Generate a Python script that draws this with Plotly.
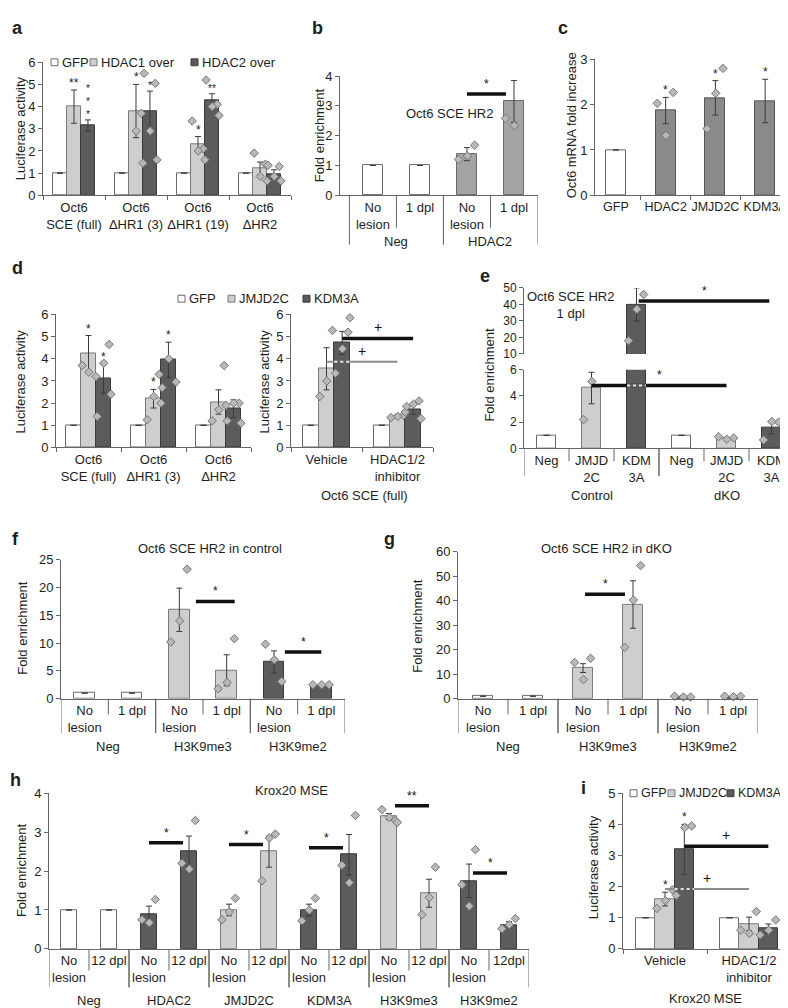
import plotly.graph_objects as go

W, H = 788, 1008
FONT = "Liberation Sans, Arial, Helvetica, sans-serif"
FS = 13
TXT = "#1e1e1e"
AX = "#666666"
ERRC = "#3a3a3a"
WHITE, LIGHT, MID, MID2, DARK = "#ffffff", "#cecece", "#a4a4a4", "#8a8a8a", "#5c5c5c"
EDGE = {WHITE: "#6a6a6a", LIGHT: "#7a7a7a", MID: "#6a6a6a", MID2: "#555555", DARK: "#3a3a3a"}
PT_FILL, PT_EDGE = "#b8b8b8", "#767676"
JIT = [-0.42, 0.38, 0.02, 0.5, -0.2]

# ======================= DATA =======================
# --- a ---
a_groups = ["Oct6<br>SCE (full)", "Oct6<br>ΔHR1 (3)", "Oct6<br>ΔHR1 (19)", "Oct6<br>ΔHR2"]
a_series = ["GFP", "HDAC1 over", "HDAC2 over"]
a_gfp = [1, 1, 1, 1]
a_hdac1 = [4.0, 3.8, 2.3, 1.2]
a_hdac1_err = [0.75, 1.2, 0.35, 0.3]
a_hdac1_pts = [[], [7.0, 3.7, 2.9, 1.45], [3.35, 2.1, 2.0, 1.6], [1.9, 1.4, 0.85, 0.65]]
a_hdac1_sig = ["**", "*", "*", ""]
a_hdac2 = [3.15, 3.8, 4.28, 0.95]
a_hdac2_err = [0.25, 0.9, 0.3, 0.2]
a_hdac2_pts = [[], [5.5, 5.05, 2.9, 1.6], [5.2, 4.1, 4.0, 3.6], [1.35, 1.3, 0.85, 0.65]]
a_hdac2_sig = ["*<br>*<br>*", "*", "**", ""]

# --- b ---
b_cats = ["No<br>lesion", "1 dpl", "No<br>lesion", "1 dpl"]
b_groups = ["Neg", "HDAC2"]
b_group_sizes = [2, 2]
b_vals = [1, 1, 1.38, 3.15]
b_err = [0, 0, 0.22, 0.7]
b_pts = [[], [], [1.2, 1.68, 1.32], [2.58, 4.56, 2.34]]
b_sig = [(2.0, 2.83, 3.4, "*")]

# --- c ---
c_cats = ["GFP", "HDAC2", "JMJD2C", "KDM3A"]
c_vals = [1, 1.87, 2.15, 2.08]
c_err = [0, 0.29, 0.38, 0.48]
c_pts = [[], [2.03, 2.27, 1.32], [1.47, 2.8, 2.25], []]
c_stars = ["", "*", "*", "*"]

# --- d ---
d_series = ["GFP", "JMJD2C", "KDM3A"]
d1_groups = ["Oct6<br>SCE (full)", "Oct6<br>ΔHR1 (3)", "Oct6<br>ΔHR2"]
d1_gfp = [1, 1, 1]
d1_jmjd = [4.25, 2.2, 2.05]
d1_jmjd_err = [0.8, 0.42, 0.55]
d1_jmjd_pts = [[3.7, 6.7, 3.4, 3.2], [1.25, 3.3, 2.3, 2.0], [1.2, 3.7, 1.7, 1.9]]
d1_jmjd_sig = ["*", "*", ""]
d1_kdm = [3.1, 3.95, 1.75]
d1_kdm_err = [0.65, 0.8, 0.4]
d1_kdm_pts = [[1.4, 4.65, 3.8, 2.4], [2.7, 6.2, 4.0, 2.95], [1.2, 2.0, 2.0, 1.1]]
d1_kdm_sig = ["*", "*", ""]

d2_groups = ["Vehicle", "HDAC1/2<br>inhibitor"]
d2_gfp = [1, 1]
d2_jmjd = [3.55, 1.42]
d2_jmjd_err = [0.95, 0.08]
d2_jmjd_pts = [[2.3, 5.28, 3.0], [1.35, 1.45, 1.4, 1.6]]
d2_kdm = [4.72, 1.72]
d2_kdm_err = [0.52, 0.22]
d2_kdm_pts = [[3.35, 5.2, 4.45, 5.85], [1.85, 2.1, 1.95, 1.3]]
d2_xlabel = "Oct6 SCE (full)"
# (group0, series0, group1, series1, y, label, kind)
d2_sig = [(0, 2, 1, 2, 4.92, "+", "black"), (0, 1, 1, 1, 3.87, "+", "gray")]

# --- e ---
e_cats = ["Neg", "JMJD<br>2C", "KDM<br>3A", "Neg", "JMJD<br>2C", "KDM<br>3A"]
e_groups = ["Control", "dKO"]
e_group_sizes = [3, 3]
e_vals = [1, 4.6, 40, 1, 0.75, 1.55]
e_err = [0, 1.2, 10, 0, 0.1, 0.45]
e_pts = [[], [2.2, 6.3, 5.1], [18, 46, 37], [], [0.9, 0.8, 0.7], [0.65, 2.0, 2.05]]
e_colors = [WHITE, LIGHT, DARK, WHITE, LIGHT, DARK]
e_sig = [(1.0, 4.0, 4.8, "*"), (2.05, 4.95, 42, "*")]
e_title = "Oct6 SCE HR2<br>1 dpl"

# --- f ---
f_cats = ["No<br>lesion", "1 dpl", "No<br>lesion", "1 dpl", "No<br>lesion", "1 dpl"]
f_groups = ["Neg", "H3K9me3", "H3K9me2"]
f_group_sizes = [2, 2, 2]
f_vals = [1, 1, 16, 5.1, 6.6, 2.4]
f_err = [0, 0, 3.9, 2.8, 2.0, 0.12]
f_pts = [[], [], [10.2, 23.3, 14], [1.8, 10.8, 2.9], [9.8, 3.1, 7.0], [2.5, 2.5, 2.5]]
f_colors = [WHITE, WHITE, LIGHT, LIGHT, DARK, DARK]
f_sig = [(2.35, 3.17, 17.5, "*"), (4.23, 5.0, 8.4, "*")]
f_title = "Oct6 SCE HR2 in control"

# --- g ---
g_cats = f_cats
g_groups = f_groups
g_group_sizes = [2, 2, 2]
g_vals = [1, 1, 12.5, 38.5, 0.8, 0.8]
g_err = [0, 0, 1.8, 9.7, 0.1, 0.1]
g_pts = [[], [], [14.8, 16.5, 7.8], [21, 54.4, 40.3], [1.0, 0.7, 0.7], [1.0, 1.0, 0.8]]
g_colors = [WHITE, WHITE, LIGHT, LIGHT, DARK, DARK]
g_sig = [(2.04, 2.84, 42.7, "*")]
g_title = "Oct6 SCE HR2 in dKO"

# --- h ---
h_cats = ["No<br>lesion", "12 dpl"] * 5 + ["No<br>lesion", "12dpl"]
h_groups = ["Neg", "HDAC2", "JMJD2C", "KDM3A", "H3K9me3", "H3K9me2"]
h_group_sizes = [2, 2, 2, 2, 2, 2]
h_vals = [1, 1, 0.9, 2.5, 1.0, 2.5, 1.0, 2.42, 3.4, 1.43, 1.75, 0.62]
h_err = [0, 0, 0.2, 0.4, 0.15, 0.4, 0.15, 0.52, 0.08, 0.36, 0.43, 0.08]
h_pts = [[], [], [0.75, 1.27, 0.67], [2.2, 3.3, 2.05], [0.75, 1.3, 0.95], [1.75, 2.95, 2.85],
         [0.72, 1.3, 1.0], [2.15, 3.43, 1.7], [3.58, 3.3, 3.38, 3.25], [0.88, 2.1, 1.32],
         [1.65, 2.55, 1.1], [0.52, 0.78, 0.62]]
h_colors = [WHITE, WHITE, DARK, DARK, LIGHT, LIGHT, DARK, DARK, LIGHT, LIGHT, DARK, DARK]
h_sig = [(2.0, 2.85, 2.73, "*"), (4.0, 4.85, 2.68, "*"), (6.0, 6.85, 2.6, "*"),
         (8.15, 9.0, 3.68, "**"), (10.1, 10.95, 1.95, "*")]
h_title = "Krox20 MSE"

# --- i ---
i_series = ["GFP", "JMJD2C", "KDM3A"]
i_groups = ["Vehicle", "HDAC1/2<br>inhibitor"]
i_gfp = [1, 1]
i_jmjd = [1.6, 0.8]
i_jmjd_err = [0.22, 0.22]
i_jmjd_pts = [[1.3, 1.9, 1.55], [0.6, 1.2, 0.5]]
i_jmjd_sig = ["*", ""]
i_kdm = [3.2, 0.65]
i_kdm_err = [0.8, 0.15]
i_kdm_pts = [[1.72, 3.95, 3.9], [0.45, 0.93, 0.6]]
i_kdm_sig = ["*", ""]
i_sig = [(0, 2, 1, 2, 3.3, "+", "black"), (0, 1, 1, 1, 1.92, "+", "gray")]
i_xlabel = "Krox20 MSE"

# ======================= BUILD =======================
fig = go.Figure()
L = dict(width=W, height=H, margin=dict(l=0, r=0, t=0, b=0), paper_bgcolor="white",
         plot_bgcolor="white", showlegend=False, bargap=0,
         font=dict(family=FONT, size=FS, color=TXT))
shapes, annos = [], []


def px(x):
    return x / W


def py(y):
    return 1 - y / H


def an(n, c):
    return (c + "axis") if n == 1 else f"{c}axis{n}"


def rf(n, c):
    return c if n == 1 else f"{c}{n}"


def axes(n, xpx, ypx, xr, yr, ytv, xtv=None, xtt=None, minor=None, xvisible=True,
         xfs=FS, yfs=FS):
    L[an(n, "x")] = dict(domain=[px(xpx[0]), px(xpx[1])], range=xr, anchor=rf(n, "y"),
                         visible=xvisible, showgrid=False, zeroline=False, showline=True,
                         linecolor=AX, linewidth=1, ticks="", tickmode="array",
                         tickvals=xtv or [], ticktext=xtt or [], tickangle=0,
                         tickfont=dict(size=xfs, color=TXT), fixedrange=True)
    if minor is not None:
        L[an(n, "x")]["minor"] = dict(tickmode="array", tickvals=minor, ticks="outside",
                                      ticklen=4, tickcolor=AX, tickwidth=1)
    L[an(n, "y")] = dict(domain=[py(ypx[1]), py(ypx[0])], range=yr, anchor=rf(n, "x"),
                         showgrid=False, zeroline=False, showline=True, linecolor=AX,
                         linewidth=1, ticks="outside", ticklen=4, tickcolor=AX,
                         tickmode="array", tickvals=ytv, tickfont=dict(size=yfs, color=TXT),
                         fixedrange=True)


def bars(n, xs, vals, errs, colors, bw):
    if isinstance(colors, str):
        colors = [colors] * len(xs)
    fig.add_trace(go.Bar(x=xs, y=vals, width=bw,
                         marker=dict(color=colors, line=dict(color=[EDGE[c] for c in colors], width=1)),
                         error_y=dict(type="data", array=errs, visible=True, color=ERRC,
                                      thickness=1, width=3),
                         xaxis=rf(n, "x"), yaxis=rf(n, "y"), hoverinfo="skip"))


def points(n, xs, pts, bw, clip=False):
    X, Y = [], []
    for x, p in zip(xs, pts):
        for k, v in enumerate(p):
            X.append(x + JIT[k % len(JIT)] * bw)
            Y.append(v)
    if X:
        fig.add_trace(go.Scatter(x=X, y=Y, mode="markers",
                                 marker=dict(symbol="diamond", size=6.5, color=PT_FILL,
                                             line=dict(color=PT_EDGE, width=1)),
                                 cliponaxis=clip, xaxis=rf(n, "x"), yaxis=rf(n, "y"),
                                 hoverinfo="skip"))


def stars(n, xs, tops, texts, size=12):
    for x, t, s in zip(xs, tops, texts):
        if s:
            annos.append(dict(x=x, y=t, xref=rf(n, "x"), yref=rf(n, "y"), text=s,
                              showarrow=False, yanchor="bottom", yshift=-2,
                              font=dict(size=size, color="#222222")))


def sig(n, x0, x1, y, label, kind="black", dark_bars=()):
    color = "#111111" if kind == "black" else "#8c8c8c"
    width = 3.5 if kind == "black" else 2
    fig.add_trace(go.Scatter(x=[x0, x1], y=[y, y], mode="lines",
                             line=dict(color=color, width=width), cliponaxis=False,
                             xaxis=rf(n, "x"), yaxis=rf(n, "y"), hoverinfo="skip"))
    for (bx, bv, bw) in dark_bars:
        lo, hi = max(x0, bx - bw / 2), min(x1, bx + bw / 2)
        if lo < hi and bv > y:
            fig.add_trace(go.Scatter(x=[lo, hi], y=[y, y], mode="lines",
                                     line=dict(color=DARK, width=width + 0.5),
                                     xaxis=rf(n, "x"), yaxis=rf(n, "y"), hoverinfo="skip"))
            fig.add_trace(go.Scatter(x=[lo, hi], y=[y, y], mode="lines",
                                     line=dict(color="#e6e6e6", width=2, dash="dot"),
                                     xaxis=rf(n, "x"), yaxis=rf(n, "y"), hoverinfo="skip"))
    annos.append(dict(x=(x0 + x1) / 2, y=y, xref=rf(n, "x"), yref=rf(n, "y"), text=label,
                      showarrow=False, yanchor="bottom", yshift=1,
                      font=dict(size=12 if label != "+" else 14, color="#111111")))


def text(xp, yp, t, size=FS, angle=0, bold=False, xanchor="center", color=TXT):
    annos.append(dict(x=px(xp), y=py(yp), xref="paper", yref="paper",
                      text=f"<b>{t}</b>" if bold else t, showarrow=False, textangle=angle,
                      xanchor=xanchor, yanchor="middle", font=dict(size=size, color=color)))


def legend(ypx, xs_px, names, colors, size=FS):
    for x, nm, c in zip(xs_px, names, colors):
        shapes.append(dict(type="rect", xref="paper", yref="paper", x0=px(x), x1=px(x + 7),
                           y0=py(ypx + 3.5), y1=py(ypx - 3.5), fillcolor=c,
                           line=dict(color=EDGE[c], width=1)))
        text(x + 9, ypx, nm, xanchor="left", size=size)


def multilevel(n, group_sizes, group_names, axis_px, short_len, long_len, label_y):
    start = 0
    for gs, gname in zip(group_sizes, group_names):
        for k in range(gs + 1):
            bx = start + k - 0.5
            is_long = (k == 0 or k == gs)
            ln = long_len if is_long else short_len
            shapes.append(dict(type="line", xref=rf(n, "x"), yref="paper", x0=bx, x1=bx,
                               y0=py(axis_px), y1=py(axis_px + ln),
                               line=dict(color=AX, width=1)))
        annos.append(dict(x=start + (gs - 1) / 2, y=py(label_y), xref=rf(n, "x"), yref="paper",
                          text=gname, showarrow=False, yanchor="middle",
                          font=dict(size=FS, color=TXT)))
        start += gs


def grouped(n, ngroups, series_vals, series_errs, series_pts, series_cols, bw):
    ns = len(series_vals)
    xs_all = []
    for s in range(ns):
        xs = [g + (s - (ns - 1) / 2) * bw for g in range(ngroups)]
        xs_all.append(xs)
        bars(n, xs, series_vals[s], series_errs[s], series_cols[s], bw)
    for s in range(ns):
        if series_pts[s] is not None:
            points(n, xs_all[s], series_pts[s], bw)
    return xs_all


def tops(vals, errs):
    return [v + e for v, e in zip(vals, errs)]


# ---------- a ----------
axes(1, (35, 283), (48, 183), [-0.5, 3.5], [0, 6], list(range(7)),
     xtv=list(range(4)), xtt=a_groups, minor=[k - 0.5 for k in range(5)])
xa = grouped(1, 4, [a_gfp, a_hdac1, a_hdac2], [[0] * 4, a_hdac1_err, a_hdac2_err],
             [None, a_hdac1_pts, a_hdac2_pts], [WHITE, LIGHT, DARK], 0.225)
stars(1, xa[1], tops(a_hdac1, a_hdac1_err), a_hdac1_sig)
stars(1, xa[2], tops(a_hdac2, a_hdac2_err), a_hdac2_sig, size=10)
legend(48, [43, 82, 183], a_series, [WHITE, LIGHT, DARK])
text(12, 115, "Luciferase activity", angle=-90)
text(9, 13, "a", size=18, bold=True)

# ---------- b ----------
axes(2, (332, 529.5), (62, 183), [-0.70, 3.5], [0, 4], list(range(5)),
     xtv=list(range(4)), xtt=b_cats)
xb = list(range(4))
bars(2, xb, b_vals, b_err, [WHITE, WHITE, MID, MID], 0.43)
points(2, xb, b_pts, 0.43)
for (x0, x1, y, lab) in b_sig:
    sig(2, x0, x1, y, lab)
multilevel(2, b_group_sizes, b_groups, 183, 33, 50, 230)
text(441, 100, "Oct6 SCE HR2")
text(311, 122, "Fold enrichment", angle=-90)
text(309, 13, "b", size=18, bold=True)

# ---------- c ----------
axes(3, (587, 786), (45, 183), [-0.42, 3.58], [0, 3], [0, 1, 2, 3],
     xtv=list(range(4)), xtt=c_cats, minor=[k - 0.5 for k in range(1, 5)], xfs=12.5)
xc = list(range(4))
bars(3, xc, c_vals, c_err, [WHITE, MID2, MID2, MID2], 0.4)
points(3, xc, c_pts, 0.4)
stars(3, xc, tops(c_vals, c_err), c_stars)
text(563, 112, "Oct6 mRNA fold increase", angle=-90)
text(555, 13, "c", size=18, bold=True)

# ---------- d ----------
axes(4, (48, 243), (304, 439), [-0.5, 2.5], [0, 6], list(range(7)),
     xtv=list(range(3)), xtt=d1_groups, minor=[k - 0.5 for k in range(4)])
xd1 = grouped(4, 3, [d1_gfp, d1_jmjd, d1_kdm], [[0] * 3, d1_jmjd_err, d1_kdm_err],
              [None, d1_jmjd_pts, d1_kdm_pts], [WHITE, LIGHT, DARK], 0.23)
stars(4, xd1[1], tops(d1_jmjd, d1_jmjd_err), d1_jmjd_sig)
stars(4, xd1[2], tops(d1_kdm, d1_kdm_err), d1_kdm_sig)
axes(5, (283, 425), (304, 439), [-0.5, 1.5], [0, 6], list(range(7)),
     xtv=list(range(2)), xtt=d2_groups, minor=[k - 0.5 for k in range(3)])
bw5 = 0.22
xd2 = grouped(5, 2, [d2_gfp, d2_jmjd, d2_kdm], [[0] * 2, d2_jmjd_err, d2_kdm_err],
              [None, d2_jmjd_pts, d2_kdm_pts], [WHITE, LIGHT, DARK], bw5)
dark5 = [(x, v, bw5) for x, v in zip(xd2[2], d2_kdm)]
for (g0, s0, g1, s1, y, lab, kind) in d2_sig:
    sig(5, xd2[s0][g0], xd2[s1][g1], y, lab, kind, dark5 if kind == "gray" else ())
legend(288, [170, 220, 295], d_series, [WHITE, LIGHT, DARK])
text(12, 372, "Luciferase activity", angle=-90)
text(256, 372, "Luciferase activity", angle=-90)
text(356, 488, d2_xlabel)
text(9, 257, "d", size=18, bold=True)

# ---------- e (broken axis) ----------
axes(6, (516, 786), (360, 440), [-0.5, 5.5], [0, 6], [0, 2, 4, 6],
     xtv=list(range(6)), xtt=e_cats, yfs=12)
axes(7, (516, 786), (277, 344), [-0.5, 5.5], [10, 50], [10, 20, 30, 40, 50],
     xvisible=False, yfs=12)
xe = list(range(6))
bw_e = 0.42
e_err_lo = [e if v <= 8 else None for v, e in zip(e_vals, e_err)]
e_err_hi = [e if v > 8 else None for v, e in zip(e_vals, e_err)]
bars(6, xe, e_vals, e_err_lo, e_colors, bw_e)
bars(7, xe, e_vals, e_err_hi, e_colors, bw_e)
points(6, xe, [[p for p in ps if p <= 8] for ps in e_pts], bw_e)
points(7, xe, [[p for p in ps if p > 8] for ps in e_pts], bw_e)
dark_e = [(x, v, bw_e) for x, v, c in zip(xe, e_vals, e_colors) if c == DARK]
for (x0, x1, y, lab) in e_sig:
    if y <= 8:
        sig(6, x0, x1, y, lab, "black", dark_e)
    else:
        sig(7, x0, x1, y, lab, "black")
multilevel(6, e_group_sizes, e_groups, 440, 13, 28, 488)
text(562, 294, e_title)
text(482, 365, "Fold enrichment", angle=-90)
text(477, 265, "e", size=18, bold=True)

# ---------- f ----------
axes(8, (53, 337), (553, 694), [-0.5, 5.5], [0, 25], [0, 5, 10, 15, 20, 25],
     xtv=list(range(6)), xtt=f_cats)
xf = list(range(6))
bars(8, xf, f_vals, f_err, f_colors, 0.43)
points(8, xf, f_pts, 0.43)
for (x0, x1, y, lab) in f_sig:
    sig(8, x0, x1, y, lab)
multilevel(8, f_group_sizes, f_groups, 694, 16, 35, 743)
text(202, 542, f_title)
text(15, 622, "Fold enrichment", angle=-90)
text(8, 532, "f", size=18, bold=True)

# ---------- g ----------
axes(9, (450, 750), (545, 694), [-0.5, 5.5], [0, 60], [0, 10, 20, 30, 40, 50, 60],
     xtv=list(range(6)), xtt=g_cats)
xg = list(range(6))
bars(9, xg, g_vals, g_err, g_colors, 0.4)
points(9, xg, g_pts, 0.4)
for (x0, x1, y, lab) in g_sig:
    sig(9, x0, x1, y, lab)
multilevel(9, g_group_sizes, g_groups, 694, 16, 35, 743)
text(598, 542, g_title)
text(410, 620, "Fold enrichment", angle=-90)
text(381, 532, "g", size=18, bold=True)

# ---------- h ----------
axes(10, (41, 521), (790, 948), [-0.5, 11.5], [0, 4], [0, 1, 2, 3, 4],
     xtv=list(range(12)), xtt=h_cats)
xh = list(range(12))
bars(10, xh, h_vals, h_err, h_colors, 0.42)
points(10, xh, h_pts, 0.42)
for (x0, x1, y, lab) in h_sig:
    sig(10, x0, x1, y, lab)
multilevel(10, h_group_sizes, h_groups, 948, 22, 39, 1000)
text(283, 787, h_title)
text(13, 868, "Fold enrichment", angle=-90)
text(8, 777, "h", size=18, bold=True)

# ---------- i ----------
axes(11, (615, 783), (790, 948), [-0.5, 1.5], [0, 5], [0, 1, 2, 3, 4, 5],
     xtv=list(range(2)), xtt=i_groups, minor=[k - 0.5 for k in range(3)])
bw_i = 0.23
xi = grouped(11, 2, [i_gfp, i_jmjd, i_kdm], [[0] * 2, i_jmjd_err, i_kdm_err],
             [None, i_jmjd_pts, i_kdm_pts], [WHITE, LIGHT, DARK], bw_i)
stars(11, xi[1], tops(i_jmjd, i_jmjd_err), i_jmjd_sig)
stars(11, xi[2], tops(i_kdm, i_kdm_err), i_kdm_sig)
dark_i = [(x, v, bw_i) for x, v in zip(xi[2], i_kdm)]
for (g0, s0, g1, s1, y, lab, kind) in i_sig:
    sig(11, xi[s0][g0], xi[s1][g1], y, lab, kind, dark_i if kind == "gray" else ())
legend(790, [622, 660, 719], i_series, [WHITE, LIGHT, DARK], size=12.5)
text(585, 865, "Luciferase activity", angle=-90)
text(697, 998, i_xlabel)
text(575, 785, "i", size=18, bold=True)

L["shapes"] = shapes
L["annotations"] = annos
fig.update_layout(**L)
fig.write_html("out.html")
